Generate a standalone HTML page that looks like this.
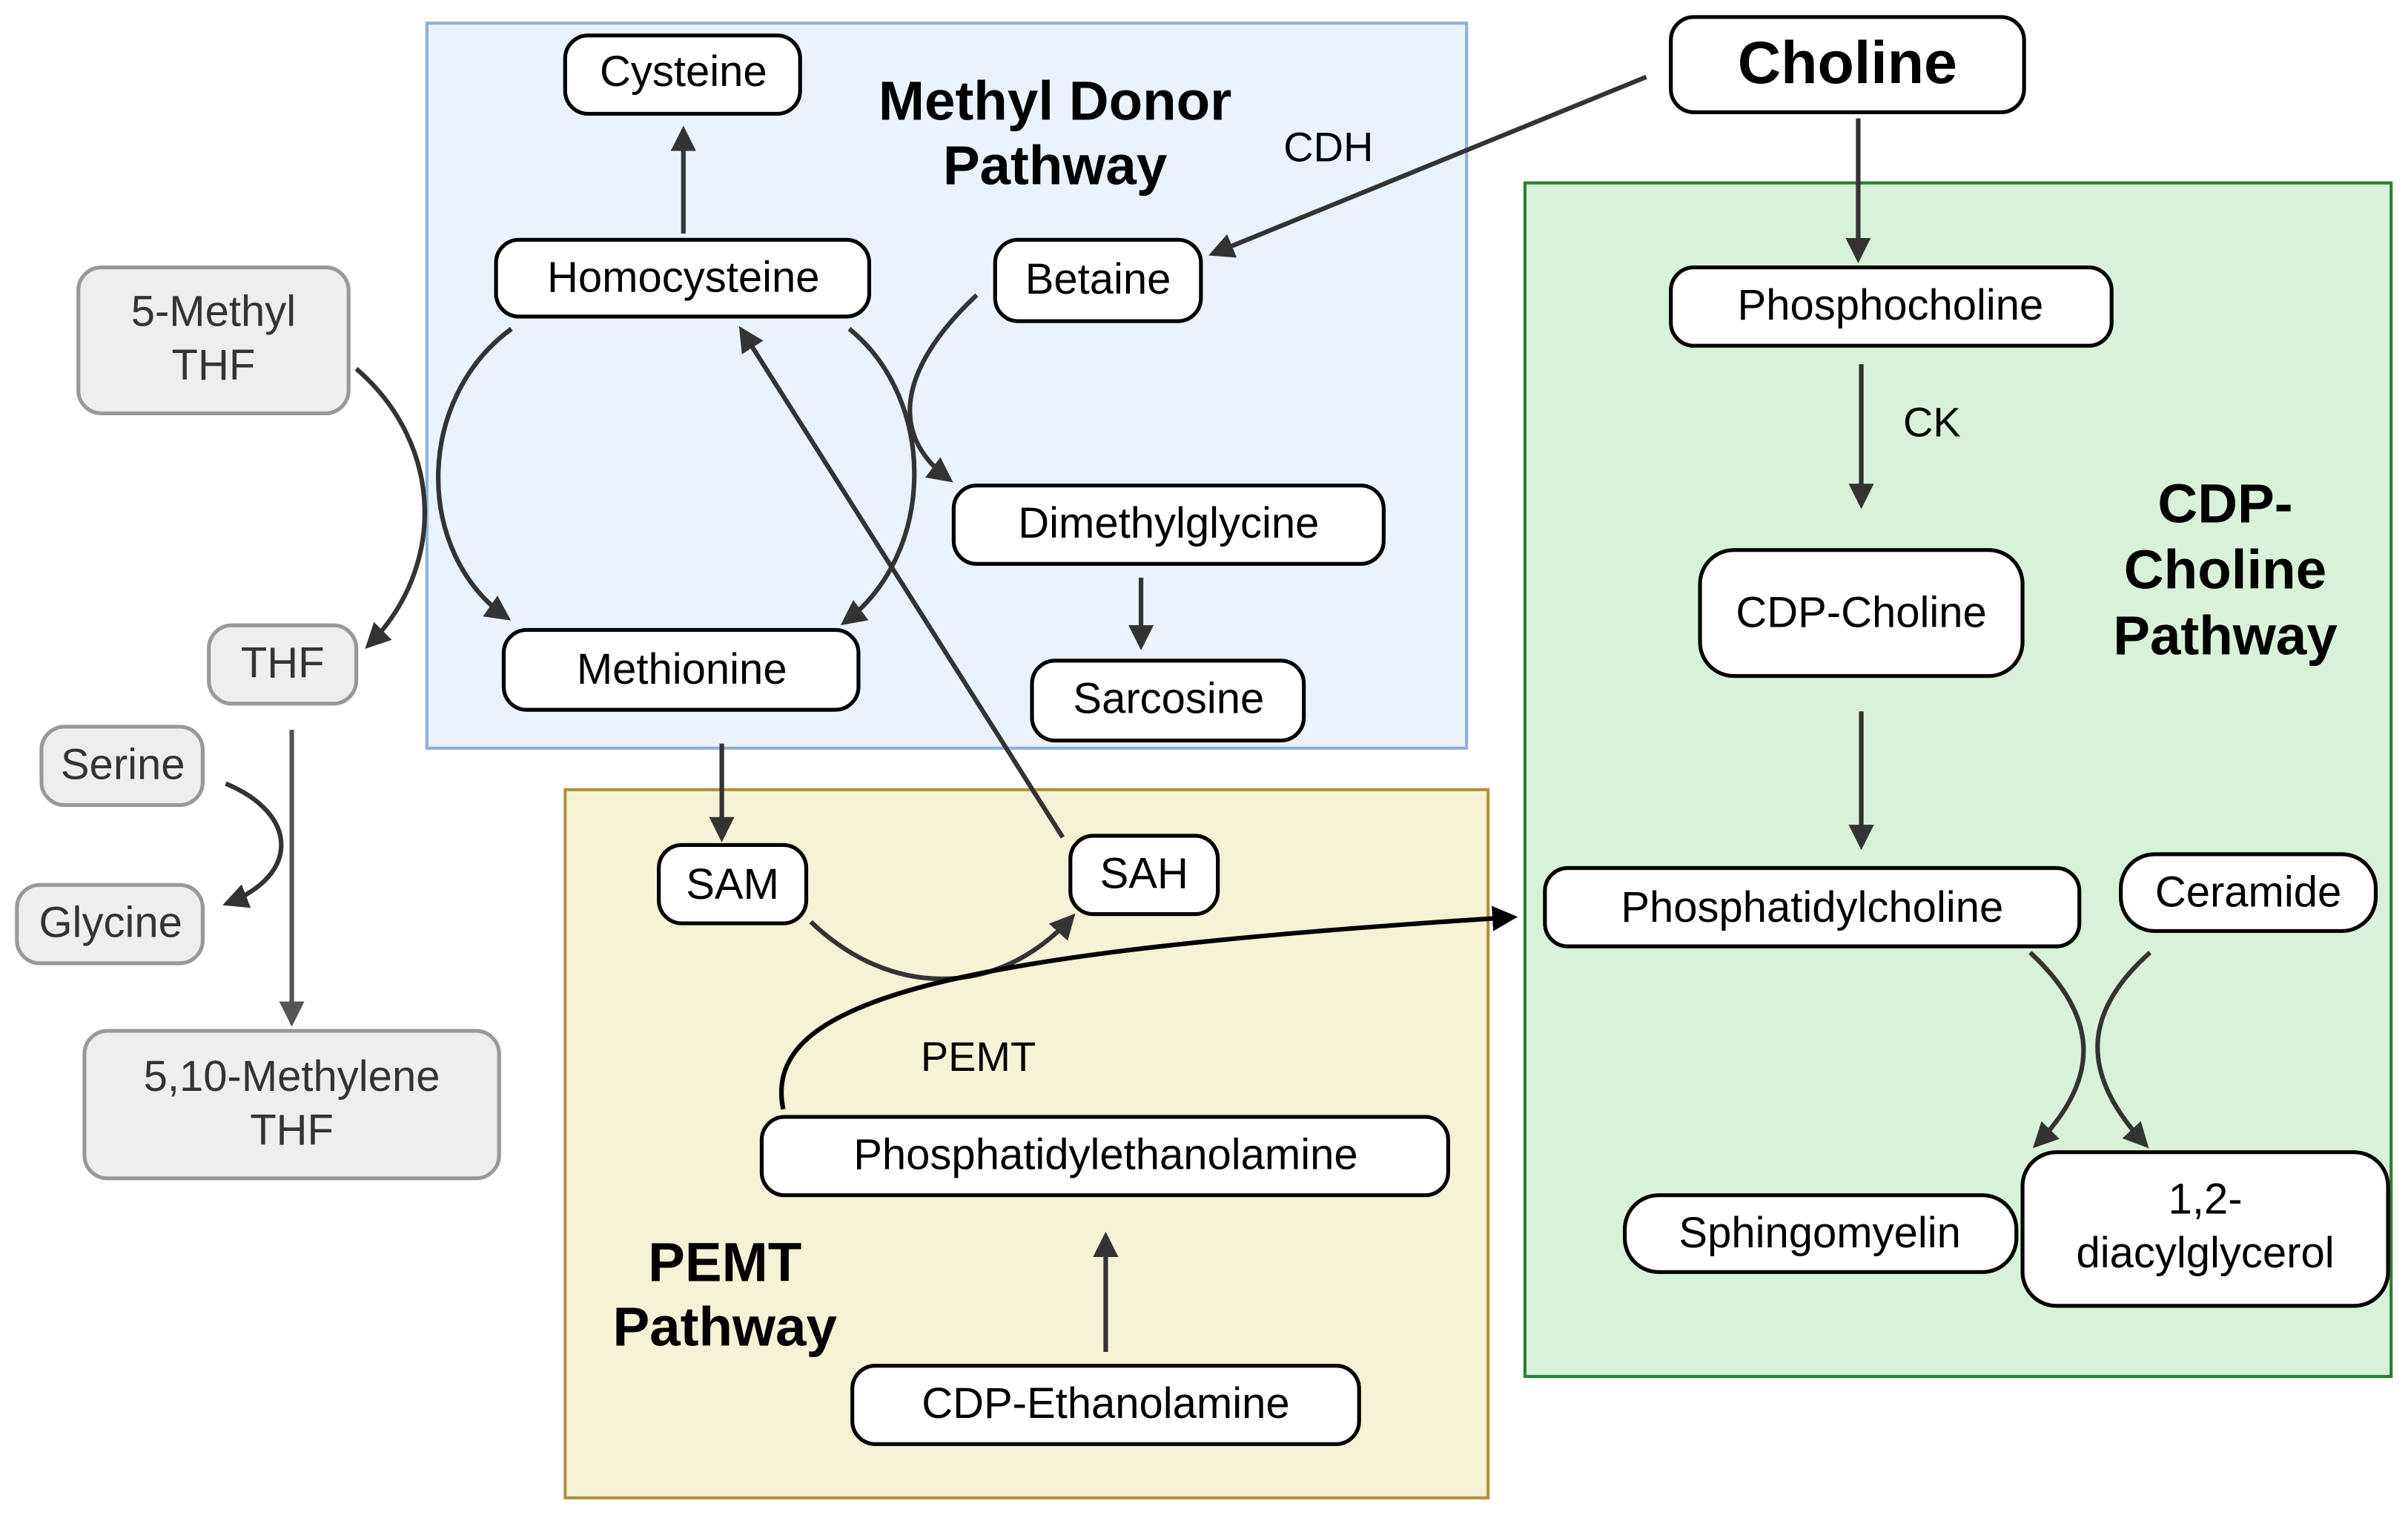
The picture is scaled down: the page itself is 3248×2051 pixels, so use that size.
<!DOCTYPE html>
<html><head><meta charset="utf-8"><style>
html,body{margin:0;padding:0;background:#fff;}
svg{display:block;}
text{font-family:"Liberation Sans",sans-serif;}
</style></head><body>
<svg width="3248" height="2051" viewBox="0 0 1568 990" xmlns="http://www.w3.org/2000/svg">
<defs>
<marker id="a" viewBox="0 0 10 10" refX="8" refY="5" markerWidth="5.5" markerHeight="5.5" orient="auto-start-reverse" markerUnits="strokeWidth"><path d="M0,0 L10,5 L0,10 z" fill="#333"/></marker>
<marker id="g" viewBox="0 0 10 10" refX="8" refY="5" markerWidth="5.5" markerHeight="5.5" orient="auto" markerUnits="strokeWidth"><path d="M0,0 L10,5 L0,10 z" fill="#555"/></marker>
<marker id="k" viewBox="0 0 10 10" refX="8" refY="5" markerWidth="5.5" markerHeight="5.5" orient="auto" markerUnits="strokeWidth"><path d="M0,0 L10,5 L0,10 z" fill="#000"/></marker>
</defs>
<rect width="1568" height="990" fill="#fff"/>
<rect x="278" y="15" width="677" height="472" fill="#eaf2fc" stroke="#8fb0df" stroke-width="2"/>
<rect x="368" y="514" width="601" height="461" fill="#f5f2d5" stroke="#b09040" stroke-width="2"/>
<rect x="993" y="119" width="564" height="777" fill="#d7f2d9" stroke="#2e7d32" stroke-width="2"/>

<g font-weight="bold" font-size="36" text-anchor="middle" fill="#000">
<text x="687" y="78">Methyl Donor</text><text x="687" y="120">Pathway</text>
<text x="1449" y="340">CDP-</text><text x="1449" y="383">Choline</text><text x="1449" y="426">Pathway</text>
<text x="472" y="834">PEMT</text><text x="472" y="876">Pathway</text>
</g>

<g fill="#fff" stroke="#000" stroke-width="2.5">
<rect x="368" y="23" width="153" height="51" rx="15"/>
<rect x="323" y="156" width="243" height="50" rx="15"/>
<rect x="648" y="156" width="134" height="53" rx="15"/>
<rect x="621" y="316" width="280" height="51" rx="15"/>
<rect x="328" y="410" width="231" height="52" rx="15"/>
<rect x="672" y="430" width="177" height="52" rx="15"/>
<rect x="1088" y="11" width="230" height="62" rx="15"/>
<rect x="1088" y="174" width="287" height="51" rx="15"/>
<rect x="1107" y="358" width="210" height="82" rx="22"/>
<rect x="1006" y="565" width="348" height="51" rx="15"/>
<rect x="1381" y="556" width="166" height="50" rx="22"/>
<rect x="1058" y="778" width="255" height="50" rx="22"/>
<rect x="1317" y="750" width="238" height="100" rx="22"/>
<rect x="429" y="550" width="96" height="51" rx="15"/>
<rect x="697" y="544" width="96" height="51" rx="15"/>
<rect x="496" y="727" width="447" height="51" rx="15"/>
<rect x="555" y="889" width="330" height="51" rx="15"/>
</g>
<g fill="#eeeeee" stroke="#999" stroke-width="2.5">
<rect x="51" y="174" width="176" height="95" rx="15"/>
<rect x="136" y="407" width="96" height="51" rx="15"/>
<rect x="27" y="473" width="105" height="51" rx="15"/>
<rect x="11" y="576" width="121" height="51" rx="15"/>
<rect x="55" y="671" width="270" height="96" rx="15"/>
</g>

<g font-size="28" text-anchor="middle" fill="#000">
<text x="445" y="56">Cysteine</text>
<text x="445" y="190">Homocysteine</text>
<text x="715" y="191">Betaine</text>
<text x="761" y="350">Dimethylglycine</text>
<text x="444" y="445">Methionine</text>
<text x="761" y="464">Sarcosine</text>
<text x="1203" y="54" font-size="39" font-weight="bold">Choline</text>
<text x="1231" y="208">Phosphocholine</text>
<text x="1212" y="408">CDP-Choline</text>
<text x="1180" y="600">Phosphatidylcholine</text>
<text x="1464" y="590">Ceramide</text>
<text x="1185" y="812">Sphingomyelin</text>
<text x="1436" y="790">1,2-</text><text x="1436" y="825">diacylglycerol</text>
<text x="477" y="585">SAM</text>
<text x="745" y="578">SAH</text>
<text x="720" y="761">Phosphatidylethanolamine</text>
<text x="720" y="923">CDP-Ethanolamine</text>
<text x="865" y="105" font-size="27">CDH</text>
<text x="1258" y="284" font-size="27">CK</text>
<text x="637" y="697" font-size="27">PEMT</text>
</g>
<g font-size="28" text-anchor="middle" fill="#333">
<text x="139" y="212">5-Methyl</text><text x="139" y="247">THF</text>
<text x="184" y="441">THF</text>
<text x="80" y="507">Serine</text>
<text x="72" y="610">Glycine</text>
<text x="190" y="710">5,10-Methylene</text><text x="190" y="745">THF</text>
</g>

<g fill="none" stroke="#333" stroke-width="3" marker-end="url(#a)">
<path d="M445,152 L445,85"/>
<path d="M1072,50 L790,165"/>
<path d="M1210,77 L1210,168"/>
<path d="M1212,237 L1212,328"/>
<path d="M1212,463 L1212,550"/>
<path d="M333,214 C270,260 270,360 330,402"/>
<path d="M553,214 C610,260 610,360 550,405"/>
<path d="M636,192 C590,235 575,280 618,312"/>
<path d="M743,376 L743,420"/>
<path d="M470,484 L470,545"/>
<path d="M692,545 L483,215"/>
<path d="M528,600 C580,650 650,650 698,597"/>
<path d="M720,880 L720,805"/>
<path d="M1322,620 C1365,660 1370,700 1326,745"/>
<path d="M1400,620 C1355,660 1355,700 1397,745"/>
<path d="M232,240 C290,290 290,370 240,420"/>
<path d="M147,510 C195,530 195,570 148,588"/>
</g>
<path d="M190,475 L190,665" fill="none" stroke="#555" stroke-width="3" marker-end="url(#g)"/>
<path d="M510,722 C495,650 620,620 985,597" fill="none" stroke="#000" stroke-width="3" marker-end="url(#k)"/>
</svg>
</body></html>
